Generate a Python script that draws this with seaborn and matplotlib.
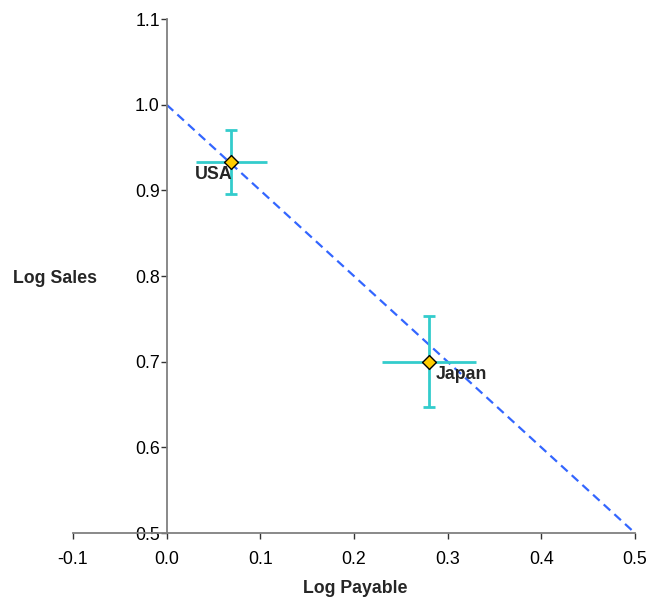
import numpy as np
import pandas as pd
import matplotlib
matplotlib.use('Agg')
import matplotlib.pyplot as plt
import seaborn as sns

# данные
countries = ['USA', 'Japan']
log_payable = [0.069, 0.280]
log_sales = [0.933, 0.700]
payable_err = [0.038, 0.050]
sales_err = [0.037, 0.053]

# линия регрессии
fit_x = [0.0, 0.5]
fit_y = [1.0, 0.5]

x_ticks = [-0.1, 0.0, 0.1, 0.2, 0.3, 0.4, 0.5]
y_ticks = [0.5, 0.6, 0.7, 0.8, 0.9, 1.0, 1.1]

sns.set_style('white')
plt.rcParams['font.family'] = ['Liberation Sans', 'DejaVu Sans']

df = pd.DataFrame({'country': countries, 'x': log_payable, 'y': log_sales,
                   'xerr': payable_err, 'yerr': sales_err})
line_df = pd.DataFrame({'x': fit_x, 'y': fit_y})

fs = 12.8

fig = plt.figure(figsize=(6.52, 5.97), dpi=100)
ax = fig.add_axes([0.112, 0.107, 0.862, 0.861])

# оси: левая проходит через x = 0 (ставим до настройки подписей, иначе они сбрасываются)
for s in ['top', 'right']:
    ax.spines[s].set_visible(False)
ax.spines['left'].set_position(('data', 0))
for s in ['left', 'bottom']:
    ax.spines[s].set_color('#808080')
    ax.spines[s].set_linewidth(1.3)

sns.lineplot(x='x', y='y', data=line_df, ax=ax, color='#3366FF',
             linestyle=(0, (4, 2.5)), linewidth=1.6, zorder=2)

# усы погрешностей
ax.errorbar(df['x'], df['y'], xerr=df['xerr'], fmt='none', ecolor='#33CCCC',
            elinewidth=2, capsize=0, zorder=3)
ax.errorbar(df['x'], df['y'], yerr=df['yerr'], fmt='none', ecolor='#33CCCC',
            elinewidth=2, capsize=4, capthick=2, zorder=3)

sns.scatterplot(x='x', y='y', data=df, ax=ax, marker='D', s=50,
                color='#FFCC00', edgecolor='black', linewidth=1, zorder=4)

for _, r in df.iterrows():
    if r['country'] == 'USA':
        ax.annotate(r['country'], (r['x'], r['y']), xytext=(1, -3),
                    textcoords='offset points', ha='right', va='top',
                    fontsize=fs, fontweight='bold')
    else:
        ax.annotate(r['country'], (r['x'], r['y']), xytext=(5, -3),
                    textcoords='offset points', ha='left', va='top',
                    fontsize=fs, fontweight='bold')

ax.set_xlim(-0.1, 0.5)
ax.set_ylim(0.5, 1.1)
ax.set_xticks(x_ticks)
ax.set_yticks(y_ticks)
ax.set_xticklabels(['%.1f' % v for v in x_ticks], fontsize=fs)
ax.set_yticklabels(['%.1f' % v for v in y_ticks], fontsize=fs)

ax.tick_params(axis='both', direction='out', length=4, width=1, color='#333333',
               left=True, bottom=True, labelcolor='black')
ax.tick_params(axis='y', pad=1)
ax.tick_params(axis='x', pad=9)

ax.set_xlabel('Log Payable', fontsize=fs, fontweight='bold', va='center')
ax.set_ylabel('Log Sales', fontsize=fs, fontweight='bold', rotation=0,
              ha='center', va='center')
ax.xaxis.set_label_coords(0.502, -0.107)
ax.yaxis.set_label_coords(-0.032, 0.496)
ax.grid(False)

fig.savefig('out.png', dpi=100)
